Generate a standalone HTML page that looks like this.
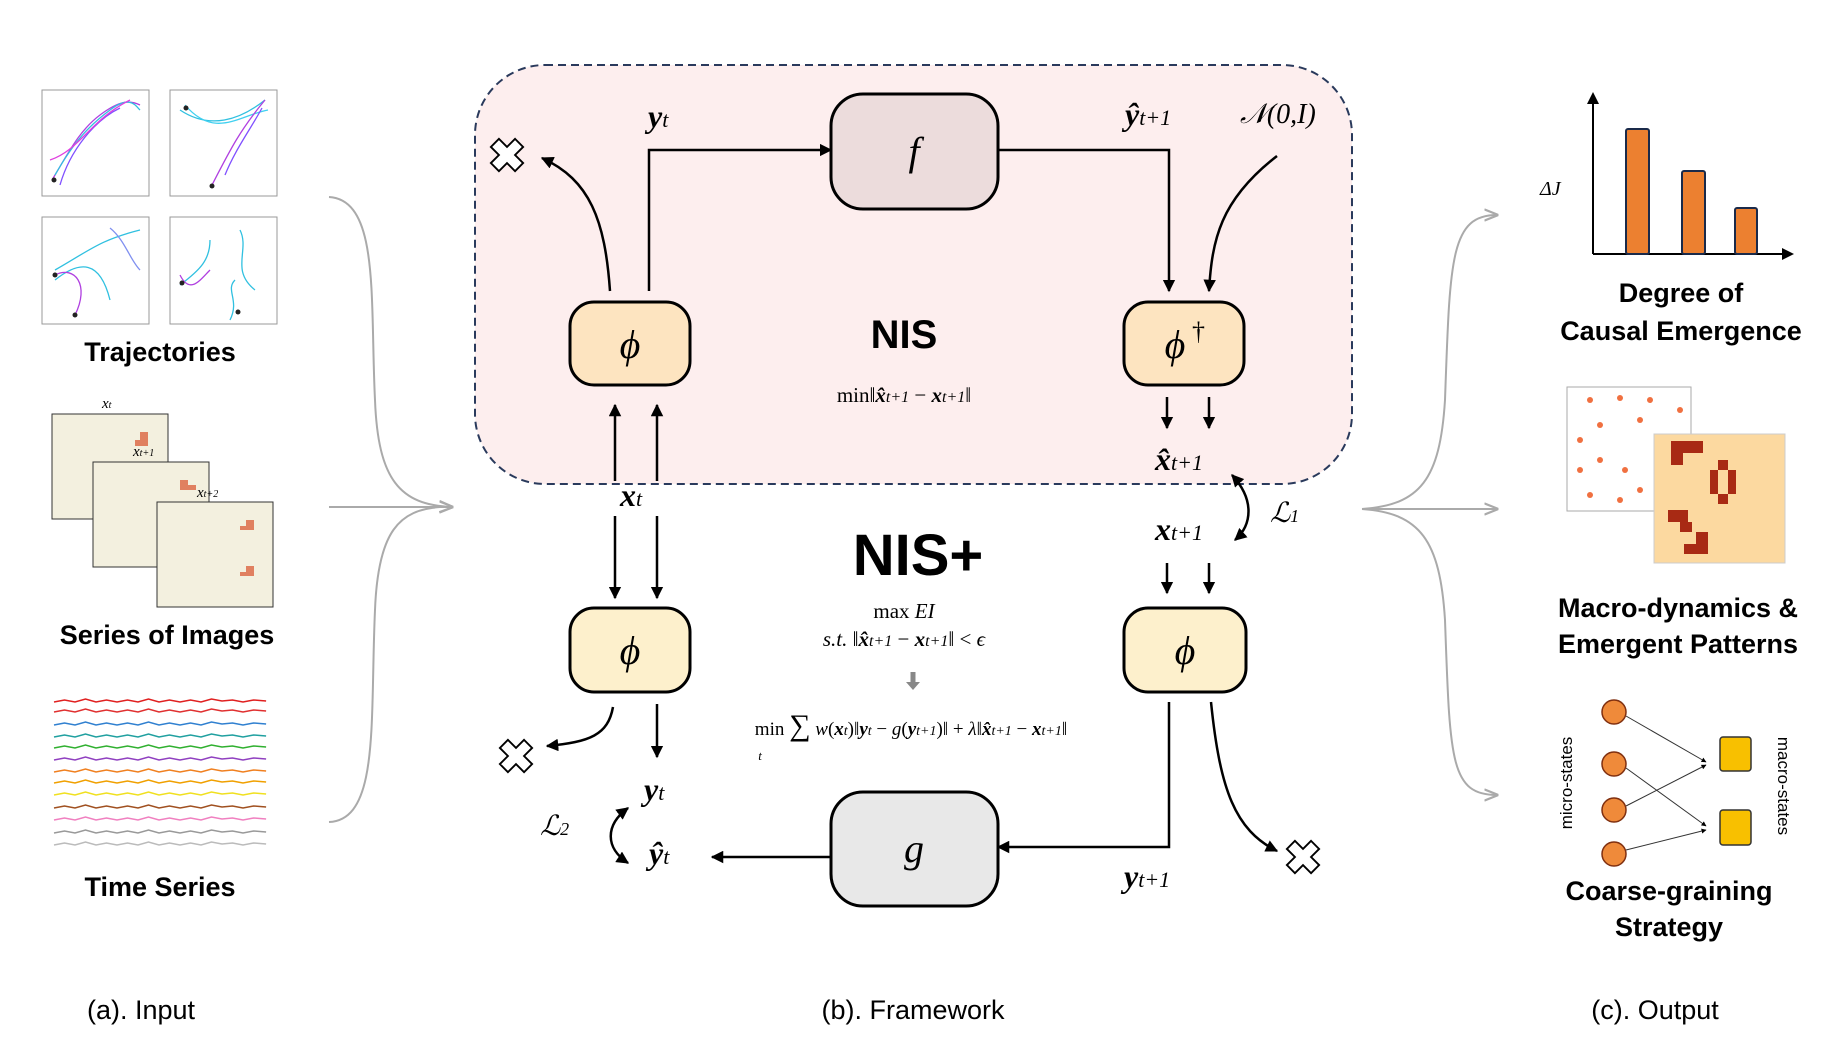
<!DOCTYPE html>
<html><head><meta charset="utf-8"><style>
body{margin:0;background:#fff}
svg{display:block}
.s{font-family:"Liberation Sans",sans-serif}
.m{font-family:"Liberation Serif",serif;font-style:italic}
</style></head><body>
<svg width="1831" height="1047" viewBox="0 0 1831 1047" xmlns="http://www.w3.org/2000/svg">
<defs>
<marker id="a" viewBox="0 0 10 10" refX="9" refY="5" markerWidth="5" markerHeight="5" orient="auto-start-reverse"><path d="M0,0L10,5L0,10z" fill="#000"/></marker>
<marker id="g" viewBox="0 0 10 10" refX="9" refY="5" markerWidth="7" markerHeight="7" orient="auto"><path d="M0,1L10,5L0,9" fill="none" stroke="#aaa" stroke-width="1.5"/></marker>
<symbol id="x" viewBox="-20 -20 40 40"><path d="M-6,-18L6,-18L6,-6L18,-6L18,6L6,6L6,18L-6,18L-6,6L-18,6L-18,-6L-6,-6Z" transform="rotate(45)" fill="#fff" stroke="#000" stroke-width="2"/></symbol>
<path id="w" d="M0,0l10,-2l10,2l10,-3l10,3l10,-2l10,2l10,-2l10,2l10,-3l10,3l10,-2l10,2l10,-2l10,2l10,-3l10,2l10,-1l10,2l10,-2l12,1"/>
</defs>
<rect x="475" y="65" width="877" height="419" rx="70" fill="#fdeeee" stroke="#2a3a5c" stroke-width="2" stroke-dasharray="8,5"/>
<rect x="831" y="94" width="167" height="115" rx="32" fill="#ecdcdc" stroke="#000" stroke-width="3"/>
<text x="914" y="165" class="m" font-size="40" text-anchor="middle">f</text>
<rect x="831" y="792" width="167" height="114" rx="32" fill="#e8e8e8" stroke="#000" stroke-width="3"/>
<text x="914" y="862" class="m" font-size="40" text-anchor="middle">g</text>
<rect x="570" y="302" width="120" height="83" rx="24" fill="#fde4c0" stroke="#000" stroke-width="3"/>
<text x="630" y="358" class="m" font-size="40" text-anchor="middle">ϕ</text>
<rect x="1124" y="302" width="120" height="83" rx="24" fill="#fde4c0" stroke="#000" stroke-width="3"/>
<text x="1175" y="358" class="m" font-size="40" text-anchor="middle">ϕ</text><text x="1192" y="340" font-family="Liberation Serif" font-size="26">†</text>
<rect x="570" y="608" width="120" height="84" rx="24" fill="#fdf0cc" stroke="#000" stroke-width="3"/>
<text x="630" y="664" class="m" font-size="40" text-anchor="middle">ϕ</text>
<rect x="1124" y="608" width="122" height="84" rx="24" fill="#fdf0cc" stroke="#000" stroke-width="3"/>
<text x="1185" y="664" class="m" font-size="40" text-anchor="middle">ϕ</text>
<text x="904" y="348" class="s" font-size="40" font-weight="bold" text-anchor="middle">NIS</text>
<text x="918" y="575" class="s" font-size="58" font-weight="bold" text-anchor="middle">NIS+</text>
<g font-size="21" text-anchor="middle" font-family="Liberation Serif">
<text x="904" y="402">min‖<tspan font-weight="bold" font-style="italic">x̂</tspan><tspan font-size="16" font-style="italic">t+1</tspan> − <tspan font-weight="bold" font-style="italic">x</tspan><tspan font-size="16" font-style="italic">t+1</tspan>‖</text>
<text x="904" y="618">max <tspan font-style="italic">EI</tspan></text>
<text x="904" y="646"><tspan font-style="italic">s.t.</tspan> ‖<tspan font-weight="bold" font-style="italic">x̂</tspan><tspan font-size="16" font-style="italic">t+1</tspan> − <tspan font-weight="bold" font-style="italic">x</tspan><tspan font-size="16" font-style="italic">t+1</tspan>‖ &lt; <tspan font-style="italic">ϵ</tspan></text>
<text x="911" y="735" font-size="19">min <tspan font-size="30">∑</tspan> <tspan font-style="italic">w</tspan>(<tspan font-weight="bold" font-style="italic">x</tspan><tspan font-size="14" font-style="italic">t</tspan>)‖<tspan font-weight="bold" font-style="italic">y</tspan><tspan font-size="14" font-style="italic">t</tspan> − <tspan font-style="italic">g</tspan>(<tspan font-weight="bold" font-style="italic">y</tspan><tspan font-size="14" font-style="italic">t+1</tspan>)‖ + <tspan font-style="italic">λ</tspan>‖<tspan font-weight="bold" font-style="italic">x̂</tspan><tspan font-size="14" font-style="italic">t+1</tspan> − <tspan font-weight="bold" font-style="italic">x</tspan><tspan font-size="14" font-style="italic">t+1</tspan>‖</text>
<text x="760" y="760" font-size="13" font-style="italic">t</text>
</g>
<path d="M913,672v12" stroke="#888" stroke-width="5"/><path d="M906,682h14l-7,8z" fill="#888"/>
<g class="m" font-weight="bold" font-size="32">
<text x="648" y="127">y<tspan font-size="22" font-weight="normal">t</tspan></text>
<text x="1125" y="125">ŷ<tspan font-size="22" font-weight="normal">t+1</tspan></text>
<text x="620" y="506">x<tspan font-size="22" font-weight="normal">t</tspan></text>
<text x="1155" y="470">x̂<tspan font-size="22" font-weight="normal">t+1</tspan></text>
<text x="1155" y="540">x<tspan font-size="22" font-weight="normal">t+1</tspan></text>
<text x="644" y="800">y<tspan font-size="22" font-weight="normal">t</tspan></text>
<text x="649" y="864">ŷ<tspan font-size="22" font-weight="normal">t</tspan></text>
<text x="1124" y="887">y<tspan font-size="22" font-weight="normal">t+1</tspan></text>
</g>
<g class="m" font-size="28">
<text x="1240" y="123">𝒩(0,<tspan>I</tspan>)</text>
<text x="1270" y="522">ℒ<tspan font-size="18">1</tspan></text>
<text x="540" y="835">ℒ<tspan font-size="18">2</tspan></text>
</g>
<g fill="none" stroke="#000" stroke-width="2.5" marker-end="url(#a)">
<path d="M610,291C605,220 590,180 542,158"/>
<path d="M649,291V150H831"/>
<path d="M998,150H1169V291"/>
<path d="M1277,156C1220,200 1212,240 1209,291"/>
<path d="M1167,397V428"/><path d="M1209,397V428"/>
<path d="M615,481V405"/><path d="M657,481V405"/>
<path d="M615,516V598"/><path d="M657,516V598"/>
<path d="M1167,563V593"/><path d="M1209,563V593"/>
<path d="M613,707C608,735 590,742 547,746"/>
<path d="M657,704V757"/>
<path d="M831,857H712"/>
<path d="M1169,702V847H998"/>
<path d="M1211,702C1220,790 1235,830 1277,851"/>
<path d="M1232,475C1255,500 1252,525 1235,540" marker-start="url(#a)"/>
<path d="M628,808C605,825 605,848 628,863" marker-start="url(#a)"/>
</g>
<use href="#x" x="488" y="136" width="38" height="38"/>
<use href="#x" x="497" y="737" width="38" height="38"/>
<use href="#x" x="1284" y="838" width="38" height="38"/>
<g fill="#fff" stroke="#999" stroke-width="1">
<rect x="42" y="90" width="107" height="106"/><rect x="170" y="90" width="107" height="106"/>
<rect x="42" y="217" width="107" height="107"/><rect x="170" y="217" width="107" height="107"/>
</g>
<g fill="none" stroke-width="1.3">
<path d="M52,180C70,150 80,130 100,115S130,100 140,105" stroke="#b040e0"/>
<path d="M55,175C75,140 90,125 110,110S135,105 140,110" stroke="#30c0e0"/>
<path d="M60,185C70,150 95,120 120,108" stroke="#8050ff"/>
<path d="M50,160C80,150 90,120 130,100" stroke="#e040e0"/>
<path d="M180,110C210,130 240,120 265,100" stroke="#30c0e0"/>
<path d="M185,105C215,140 240,115 268,110" stroke="#40d0f0"/>
<path d="M212,185C230,150 240,130 265,100" stroke="#b040e0"/>
<path d="M225,175C235,150 250,130 262,108" stroke="#8050ff"/>
<path d="M55,280C80,260 100,260 110,300M55,270C90,250 100,240 140,230" stroke="#30c0e0"/>
<path d="M55,275C75,265 90,285 75,315" stroke="#b040e0"/>
<path d="M110,228C125,240 130,260 140,270" stroke="#8090f0"/>
<path d="M180,285C200,270 210,260 210,240M240,230C250,250 230,270 255,290M230,320C240,300 225,290 235,280" stroke="#30c0e0"/>
<path d="M180,275C190,295 200,280 210,270" stroke="#b040e0"/>
</g>
<g fill="#222"><circle cx="54" cy="180" r="2.5"/><circle cx="186" cy="108" r="2.5"/><circle cx="212" cy="186" r="2.5"/><circle cx="55" cy="275" r="2.5"/><circle cx="75" cy="315" r="2.5"/><circle cx="182" cy="283" r="2.5"/><circle cx="238" cy="312" r="2.5"/></g>
<text x="160" y="361" class="s" font-size="27" font-weight="bold" text-anchor="middle">Trajectories</text>
<g stroke="#333" stroke-width="1" fill="#f3f0df">
<rect x="52" y="414" width="116" height="105"/><rect x="93" y="462" width="116" height="105"/><rect x="157" y="502" width="116" height="105"/>
</g>
<g fill="#e08060"><rect x="140" y="432" width="8" height="8"/><rect x="135" y="440" width="13" height="6"/><rect x="180" y="480" width="8" height="10"/><rect x="188" y="485" width="8" height="5"/><rect x="246" y="520" width="8" height="10"/><rect x="240" y="526" width="8" height="4"/><rect x="246" y="566" width="8" height="10"/><rect x="240" y="572" width="8" height="4"/></g>
<g class="m" font-size="15"><text x="102" y="408">x<tspan font-size="10">t</tspan></text><text x="133" y="456">x<tspan font-size="10">t+1</tspan></text><text x="197" y="497">x<tspan font-size="10">t+2</tspan></text></g>
<text x="167" y="644" class="s" font-size="27" font-weight="bold" text-anchor="middle">Series of Images</text>
<g fill="none" stroke-width="1.5" transform="translate(54,0) scale(1.05,1)">
<use href="#w" y="702" stroke="#e02020"/><use href="#w" y="712" stroke="#e03030"/><use href="#w" y="725" stroke="#3080d0"/><use href="#w" y="737" stroke="#20a0a0"/><use href="#w" y="748" stroke="#30b030"/><use href="#w" y="760" stroke="#9040c0"/><use href="#w" y="772" stroke="#f08020"/><use href="#w" y="783" stroke="#f0a000"/><use href="#w" y="795" stroke="#f0e020"/><use href="#w" y="808" stroke="#a05020"/><use href="#w" y="820" stroke="#f080c0"/><use href="#w" y="833" stroke="#999"/><use href="#w" y="845" stroke="#bbb"/>
</g>
<text x="160" y="896" class="s" font-size="27" font-weight="bold" text-anchor="middle">Time Series</text>
<g fill="none" stroke="#aaa" stroke-width="2">
<path d="M329,197C380,200 370,300 375,400C378,480 400,505 452,507" marker-end="url(#g)"/>
<path d="M329,822C380,820 370,720 375,610C378,530 400,510 440,507"/>
<path d="M329,507H452" marker-end="url(#g)"/>
<path d="M1362,509C1420,505 1440,480 1445,400C1450,260 1450,215 1497,215" marker-end="url(#g)"/>
<path d="M1362,509H1497" marker-end="url(#g)"/>
<path d="M1362,509C1420,513 1440,540 1445,620C1450,760 1450,795 1497,795" marker-end="url(#g)"/>
</g>
<g stroke="#000" stroke-width="2" fill="none"><path d="M1593,254V100M1593,254H1785"/></g>
<path d="M1587,104L1593,92L1599,104z"/><path d="M1782,248L1794,254L1782,260z"/>
<g fill="#ec8030" stroke="#1a2a4a" stroke-width="2"><rect x="1626" y="129" width="23" height="125" rx="2"/><rect x="1682" y="171" width="23" height="83" rx="2"/><rect x="1735" y="208" width="22" height="46" rx="2"/></g>
<text x="1540" y="195" class="m" font-size="20">ΔJ</text>
<g class="s" font-size="27" font-weight="bold" text-anchor="middle">
<text x="1681" y="302">Degree of</text><text x="1681" y="340">Causal Emergence</text>
<text x="1678" y="617">Macro-dynamics &amp;</text><text x="1678" y="653">Emergent Patterns</text>
<text x="1669" y="900">Coarse-graining</text><text x="1669" y="936">Strategy</text>
</g>
<rect x="1567" y="387" width="124" height="124" fill="#fff" stroke="#aaa"/>
<g fill="#f07040"><circle cx="1590" cy="400" r="3"/><circle cx="1620" cy="398" r="3"/><circle cx="1650" cy="400" r="3"/><circle cx="1680" cy="410" r="3"/><circle cx="1580" cy="440" r="3"/><circle cx="1600" cy="425" r="3"/><circle cx="1640" cy="420" r="3"/><circle cx="1580" cy="470" r="3"/><circle cx="1600" cy="460" r="3"/><circle cx="1590" cy="495" r="3"/><circle cx="1620" cy="500" r="3"/><circle cx="1640" cy="490" r="3"/><circle cx="1625" cy="470" r="3"/></g>
<rect x="1654" y="434" width="131" height="129" fill="#fcd9a0" stroke="#ccc"/>
<g fill="#a82a14"><rect x="1671" y="441" width="12" height="24"/><rect x="1683" y="441" width="10" height="12"/><rect x="1693" y="441" width="10" height="12"/><rect x="1718" y="460" width="10" height="10"/><rect x="1710" y="470" width="8" height="24"/><rect x="1728" y="470" width="8" height="24"/><rect x="1718" y="494" width="10" height="10"/><rect x="1668" y="510" width="20" height="12"/><rect x="1680" y="522" width="12" height="10"/><rect x="1696" y="532" width="12" height="22"/><rect x="1684" y="544" width="12" height="10"/></g>
<g stroke="#333" stroke-width="1" fill="none" marker-end="url(#a)">
<path d="M1626,716L1706,762"/><path d="M1626,768L1706,826"/><path d="M1626,806L1706,765"/><path d="M1626,850L1706,830"/>
</g>
<g fill="#ef8a3a" stroke="#803010" stroke-width="1.5"><circle cx="1614" cy="712" r="12"/><circle cx="1614" cy="764" r="12"/><circle cx="1614" cy="810" r="12"/><circle cx="1614" cy="854" r="12"/></g>
<g fill="#f8c000" stroke="#333" stroke-width="1.5"><rect x="1720" y="737" width="31" height="34" rx="3"/><rect x="1720" y="810" width="31" height="35" rx="3"/></g>
<text transform="translate(1572,783) rotate(-90)" class="s" font-size="17" text-anchor="middle">micro-states</text>
<text transform="translate(1778,786) rotate(90)" class="s" font-size="17" text-anchor="middle">macro-states</text>
<g class="s" font-size="27" text-anchor="middle">
<text x="141" y="1019">(a). Input</text><text x="913" y="1019">(b). Framework</text><text x="1655" y="1019">(c). Output</text>
</g>
</svg>
</body></html>
